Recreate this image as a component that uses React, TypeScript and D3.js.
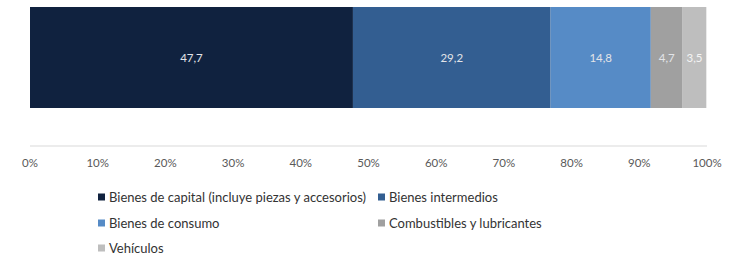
import React from "react";
import * as d3 from "d3";

const categories = [
  "Bienes de capital (incluye piezas y accesorios)",
  "Bienes intermedios",
  "Bienes de consumo",
  "Combustibles y lubricantes",
  "Vehículos",
];
const values = [47.7, 29.2, 14.8, 4.7, 3.5];
const colors = ["#10223F", "#335E91", "#568BC6", "#A0A0A0", "#BEBEBE"];
const ticks = [0, 10, 20, 30, 40, 50, 60, 70, 80, 90, 100];

const W = 738;
const H = 257;
const FONT = "Lato, 'Open Sans', sans-serif";

export default function App() {
  const x = d3.scaleLinear().domain([0, 100]).range([30, 707]);
  const barTop = 7;
  const barBottom = 108;
  const starts = d3.cumsum([0, ...values]);
  const legendPos = [
    { x: 98, y: 197 },
    { x: 378, y: 197 },
    { x: 98, y: 223 },
    { x: 378, y: 223 },
    { x: 98, y: 248 },
  ];
  const fmt = (v: number) => v.toFixed(1).replace(".", ",");
  return (
    <svg
      width={W}
      height={H}
      style={{ position: "absolute", left: 0, top: 0, background: "#fff" }}
      fontFamily={FONT}
    >
      {values.map((v, i) => (
        <g key={i}>
          <rect
            x={x(starts[i])}
            y={barTop}
            width={x(starts[i] + v) - x(starts[i])}
            height={barBottom - barTop}
            fill={colors[i]}
          />
          <text
            x={(x(starts[i]) + x(starts[i] + v)) / 2}
            y={(barTop + barBottom) / 2}
            dy="0.35em"
            textAnchor="middle"
            fontSize={11.5}
            fill={i === 4 ? "#F4F4F4" : "#E2E4E8"}
          >
            {fmt(v)}
          </text>
        </g>
      ))}
      <line x1={x(0)} x2={x(100)} y1={146} y2={146} stroke="#D9D9D9" strokeWidth={1} />
      {ticks.map((t) => (
        <text
          key={t}
          x={x(t)}
          y={163}
          dy="0.35em"
          textAnchor="middle"
          fontSize={11.5}
          fill="#595959"
        >
          {t}%
        </text>
      ))}
      {categories.map((c, i) => (
        <g key={c}>
          <rect
            x={legendPos[i].x}
            y={legendPos[i].y - 3.5}
            width={7}
            height={7}
            fill={colors[i]}
          />
          <text
            x={legendPos[i].x + 11}
            y={legendPos[i].y}
            dy="0.35em"
            fontSize={13}
            fill="#333333"
          >
            {c}
          </text>
        </g>
      ))}
    </svg>
  );
}
